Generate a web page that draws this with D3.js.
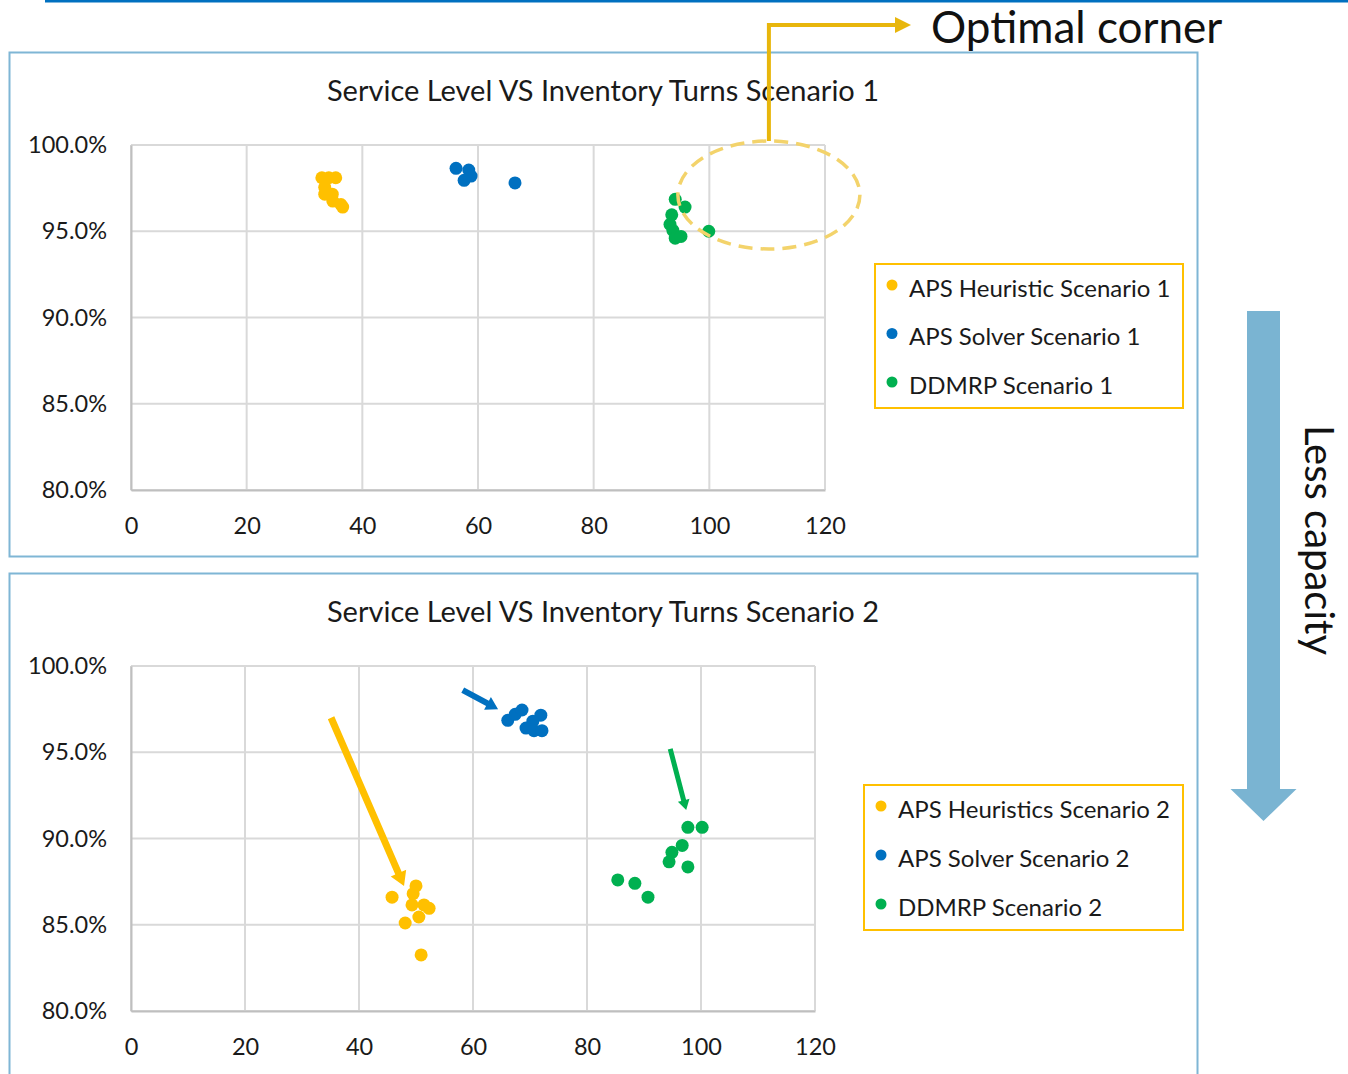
<!DOCTYPE html>
<html>
<head>
<meta charset="utf-8">
<script src="https://cdn.jsdelivr.net/npm/d3@7"></script>
<style>
  html, body { margin: 0; padding: 0; background: #ffffff; }
  svg { display: block; font-family: Lato, "Noto Sans", sans-serif; }
</style>
</head>
<body>
<svg id="chart" width="1348" height="1074"></svg>
<script>
// ---- Data: inventory turns (x) vs service level in % (y) ----
const xTicks = [0, 20, 40, 60, 80, 100, 120];
const yTicks = [80, 85, 90, 95, 100];

// Scenario 1
const heuristic1 = [
  [33.0, 98.1], [34.2, 98.1], [35.4, 98.1], [33.5, 97.55], [33.5, 97.15],
  [34.8, 97.15], [34.9, 96.75], [36.3, 96.55], [36.6, 96.4]
];
const solver1 = [
  [56.2, 98.65], [58.4, 98.55], [58.8, 98.2], [57.6, 97.95], [66.4, 97.8]
];
const ddmrp1 = [
  [94.1, 96.85], [95.8, 96.4], [93.5, 95.95], [93.2, 95.4], [93.7, 95.05],
  [94.1, 94.6], [95.1, 94.7], [99.9, 95.0]
];

// Scenario 2
const heuristic2 = [
  [45.8, 86.6], [50.0, 87.25], [49.5, 86.8], [49.3, 86.15], [51.4, 86.15],
  [52.3, 85.95], [50.5, 85.45], [48.1, 85.1], [50.9, 83.25]
];
const solver2 = [
  [66.1, 96.85], [67.4, 97.2], [68.6, 97.45], [71.9, 97.15], [70.5, 96.8],
  [69.3, 96.4], [70.7, 96.25], [72.1, 96.25]
];
const ddmrp2 = [
  [97.7, 90.65], [100.2, 90.65], [96.7, 89.6], [94.9, 89.2], [94.4, 88.65],
  [97.7, 88.35], [85.4, 87.6], [88.4, 87.4], [90.7, 86.6]
];

const titles = [
  "Service Level VS Inventory Turns Scenario 1",
  "Service Level VS Inventory Turns Scenario 2"
];
const legend1 = ["APS Heuristic Scenario 1", "APS Solver Scenario 1", "DDMRP Scenario 1"];
const legend2 = ["APS Heuristics Scenario 2", "APS Solver Scenario 2", "DDMRP Scenario 2"];

// Movement arrows in scenario 2 (from -> to, in data units)
const shiftArrows = [
  { series: 0, from: [35.1, 97.0], to: [47.9, 87.25], w: 7 },
  { series: 1, from: [58.2, 98.6], to: [64.4, 97.5], w: 6 },
  { series: 2, from: [94.6, 95.2], to: [97.4, 91.65], w: 5 }
];

const colors = ["#ffc000", "#0070c0", "#00b050"];
const gridColor = "#d9d9d9";
const panelStroke = "#7fb6d5";

const svg = d3.select("#chart");

// top rule
svg.append("rect").attr("x", 45).attr("y", 0).attr("width", 1303).attr("height", 2.5).attr("fill", "#0070c0");

// panel frames
svg.append("rect").attr("x", 9.5).attr("y", 52.5).attr("width", 1188).attr("height", 504)
  .attr("fill", "none").attr("stroke", panelStroke).attr("stroke-width", 2);
svg.append("rect").attr("x", 9.5).attr("y", 573.5).attr("width", 1188).attr("height", 520)
  .attr("fill", "none").attr("stroke", panelStroke).attr("stroke-width", 2);

function drawPanel(opts) {
  const x = d3.scaleLinear().domain([0, 120]).range([opts.left, opts.right]);
  const y = d3.scaleLinear().domain([80, 100]).range([opts.bottom, opts.top]);
  const g = svg.append("g");

  // title
  g.append("text").attr("x", 603).attr("y", opts.titleY)
    .attr("text-anchor", "middle").attr("font-size", 29).attr("fill", "#1a1a1a")
    .text(opts.title);

  // grid
  g.append("g").selectAll("line.v").data(xTicks).join("line")
    .attr("x1", d => x(d)).attr("x2", d => x(d))
    .attr("y1", y(100)).attr("y2", y(80))
    .attr("stroke", gridColor).attr("stroke-width", 2);
  g.append("g").selectAll("line.h").data(yTicks).join("line")
    .attr("x1", x(0)).attr("x2", x(120))
    .attr("y1", d => y(d)).attr("y2", d => y(d))
    .attr("stroke", gridColor).attr("stroke-width", 2);

  // axes (lines darker, labels)
  const xAxis = d3.axisBottom(x).tickValues(xTicks).tickSize(0).tickFormat(d3.format("d"));
  const yAxis = d3.axisLeft(y).tickValues(yTicks).tickSize(0).tickPadding(24).tickFormat(d => d.toFixed(1) + "%");
  const gx = g.append("g").attr("transform", `translate(0,${y(80)})`).call(xAxis);
  const gy = g.append("g").attr("transform", `translate(${x(0)},0)`).call(yAxis);
  [gx, gy].forEach(a => {
    a.select(".domain").attr("stroke", "#bfbfbf").attr("stroke-width", 2);
    a.selectAll("text").attr("font-size", 23.5).attr("fill", "#1a1a1a").attr("font-family", "Lato, sans-serif");
  });
  gx.selectAll("text").attr("dy", "0.36em").attr("y", 36);

  // points
  opts.series.forEach((s, i) => {
    g.append("g").selectAll("circle").data(s).join("circle")
      .attr("cx", d => x(d[0])).attr("cy", d => y(d[1])).attr("r", 6.5)
      .attr("fill", colors[i]);
  });

  // legend
  const L = opts.legend;
  g.append("rect").attr("x", L.x).attr("y", L.y).attr("width", L.w).attr("height", L.h)
    .attr("fill", "#fff").attr("stroke", "#ffc000").attr("stroke-width", 2);
  L.labels.forEach((t, i) => {
    const cy = L.y + 24 + i * L.step;
    g.append("circle").attr("cx", L.x + 17).attr("cy", cy - 3).attr("r", 5.5).attr("fill", colors[i]);
    g.append("text").attr("x", L.x + 34).attr("y", cy).attr("dy", "0.36em")
      .attr("font-size", 24).attr("fill", "#1a1a1a").text(t);
  });
  return { g, x, y };
}

const p1 = drawPanel({
  left: 131, right: 825, top: 145, bottom: 490, titleY: 101,
  title: titles[0],
  series: [heuristic1, solver1, ddmrp1],
  legend: { x: 875, y: 264, w: 308, h: 144, step: 48.5, labels: legend1 }
});

const p2 = drawPanel({
  left: 131, right: 815, top: 666, bottom: 1011, titleY: 622,
  title: titles[1],
  series: [heuristic2, solver2, ddmrp2],
  legend: { x: 864, y: 785, w: 319, h: 145, step: 49, labels: legend2 }
});

// block arrow polygon from (x1,y1) to (x2,y2)
function arrowPoints(x1, y1, x2, y2, w, headW, headL) {
  const dx = x2 - x1, dy = y2 - y1, len = Math.hypot(dx, dy);
  const ux = dx / len, uy = dy / len, nx = -uy, ny = ux;
  const bx = x2 - ux * headL, by = y2 - uy * headL;
  const pts = [
    [x1 + nx * w / 2, y1 + ny * w / 2],
    [bx + nx * w / 2, by + ny * w / 2],
    [bx + nx * headW / 2, by + ny * headW / 2],
    [x2, y2],
    [bx - nx * headW / 2, by - ny * headW / 2],
    [bx - nx * w / 2, by - ny * w / 2],
    [x1 - nx * w / 2, y1 - ny * w / 2]
  ];
  return pts.map(p => p.join(",")).join(" ");
}

shiftArrows.forEach(a => {
  p2.g.append("polygon")
    .attr("points", arrowPoints(p2.x(a.from[0]), p2.y(a.from[1]), p2.x(a.to[0]), p2.y(a.to[1]), a.w, a.w * 2.4, a.w * 2))
    .attr("fill", colors[a.series]);
});

// optimal corner highlight (scenario 1)
const cornerX = p1.x(110.3), cornerY = p1.y(97.1);
p1.g.append("ellipse").attr("cx", cornerX).attr("cy", cornerY).attr("rx", 91).attr("ry", 54)
  .attr("fill", "none").attr("stroke", "#f3d36b").attr("stroke-width", 3.5)
  .attr("stroke-dasharray", "14 8");

svg.append("path")
  .attr("d", `M${cornerX},${cornerY - 54} V25 H897`)
  .attr("fill", "none").attr("stroke", "#e8b60c").attr("stroke-width", 4);
svg.append("polygon")
  .attr("points", `895,17 911,25 895,33`).attr("fill", "#e8b60c");
svg.append("text").attr("x", 931).attr("y", 43).attr("font-size", 44).attr("fill", "#111")
  .text("Optimal corner");

// "less capacity" arrow
svg.append("polygon")
  .attr("points", arrowPoints(1263.5, 311, 1263.5, 821, 33, 66, 32))
  .attr("fill", "#7ab4d2");
svg.append("text")
  .attr("transform", "translate(1305,540) rotate(90)")
  .attr("text-anchor", "middle").attr("font-size", 40).attr("fill", "#111")
  .text("Less capacity");
</script>
</body>
</html>
